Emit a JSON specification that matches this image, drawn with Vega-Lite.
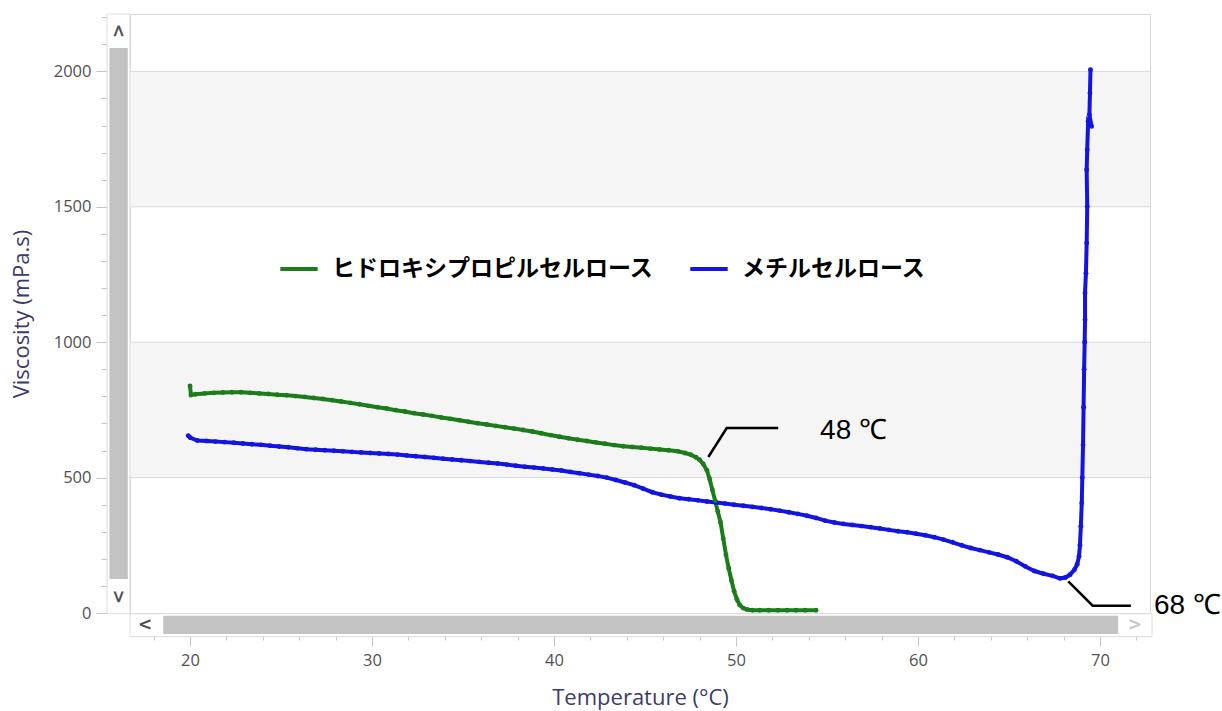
{
  "$schema": "https://vega.github.io/schema/vega-lite/v6.json",
  "width": 1020,
  "height": 599,
  "autosize": {"type": "none"},
  "padding": {"left": 130, "top": 14, "right": 72, "bottom": 98},
  "background": "white",
  "config": {"view": {"stroke": "#d9d9d9", "strokeWidth": 1}, "font": "Open Sans"},
  "datasets": {
    "one": [{}],
    "bands": [{"lo": 500, "hi": 1000}, {"lo": 1500, "hi": 2000}],
    "grid": [{"g": 500}, {"g": 1000}, {"g": 1500}, {"g": 2000}],
    "ann": [
      {"g": "a48", "t": 48.48, "v": 576, "n": 1},
      {"g": "a48", "t": 49.49, "v": 683, "n": 2},
      {"g": "a48", "t": 52.32, "v": 683, "n": 3},
      {"g": "a68", "t": 68.26, "v": 117, "n": 1},
      {"g": "a68", "t": 69.6, "v": 27, "n": 2},
      {"g": "a68", "t": 71.7, "v": 27, "n": 3}
    ],
    "labels": [
      {"txt": "48 ℃", "t": 54.62, "v": 671},
      {"txt": "68 ℃", "t": 72.97, "v": 25}
    ],
    "curves": [
      {"s": "ヒドロキシプロピルセルロース", "n": 1, "t": 20.0, "v": 838},
      {"s": "ヒドロキシプロピルセルロース", "n": 2, "t": 20.05, "v": 805},
      {"s": "ヒドロキシプロピルセルロース", "n": 3, "t": 20.3, "v": 808},
      {"s": "ヒドロキシプロピルセルロース", "n": 4, "t": 20.8, "v": 811},
      {"s": "ヒドロキシプロピルセルロース", "n": 5, "t": 21.3, "v": 813},
      {"s": "ヒドロキシプロピルセルロース", "n": 6, "t": 21.8, "v": 814},
      {"s": "ヒドロキシプロピルセルロース", "n": 7, "t": 22.3, "v": 815},
      {"s": "ヒドロキシプロピルセルロース", "n": 8, "t": 22.8, "v": 815},
      {"s": "ヒドロキシプロピルセルロース", "n": 9, "t": 23.3, "v": 813},
      {"s": "ヒドロキシプロピルセルロース", "n": 10, "t": 23.8, "v": 811},
      {"s": "ヒドロキシプロピルセルロース", "n": 11, "t": 24.3, "v": 809},
      {"s": "ヒドロキシプロピルセルロース", "n": 12, "t": 24.8, "v": 806},
      {"s": "ヒドロキシプロピルセルロース", "n": 13, "t": 25.3, "v": 804},
      {"s": "ヒドロキシプロピルセルロース", "n": 14, "t": 25.8, "v": 801},
      {"s": "ヒドロキシプロピルセルロース", "n": 15, "t": 26.3, "v": 798},
      {"s": "ヒドロキシプロピルセルロース", "n": 16, "t": 26.8, "v": 794},
      {"s": "ヒドロキシプロピルセルロース", "n": 17, "t": 27.3, "v": 790},
      {"s": "ヒドロキシプロピルセルロース", "n": 18, "t": 27.8, "v": 786},
      {"s": "ヒドロキシプロピルセルロース", "n": 19, "t": 28.3, "v": 781},
      {"s": "ヒドロキシプロピルセルロース", "n": 20, "t": 28.8, "v": 776},
      {"s": "ヒドロキシプロピルセルロース", "n": 21, "t": 29.3, "v": 771},
      {"s": "ヒドロキシプロピルセルロース", "n": 22, "t": 29.8, "v": 765},
      {"s": "ヒドロキシプロピルセルロース", "n": 23, "t": 30.3, "v": 760},
      {"s": "ヒドロキシプロピルセルロース", "n": 24, "t": 30.8, "v": 755},
      {"s": "ヒドロキシプロピルセルロース", "n": 25, "t": 31.3, "v": 749},
      {"s": "ヒドロキシプロピルセルロース", "n": 26, "t": 31.8, "v": 744},
      {"s": "ヒドロキシプロピルセルロース", "n": 27, "t": 32.3, "v": 738},
      {"s": "ヒドロキシプロピルセルロース", "n": 28, "t": 32.8, "v": 733},
      {"s": "ヒドロキシプロピルセルロース", "n": 29, "t": 33.3, "v": 728},
      {"s": "ヒドロキシプロピルセルロース", "n": 30, "t": 33.8, "v": 722},
      {"s": "ヒドロキシプロピルセルロース", "n": 31, "t": 34.3, "v": 717},
      {"s": "ヒドロキシプロピルセルロース", "n": 32, "t": 34.8, "v": 712},
      {"s": "ヒドロキシプロピルセルロース", "n": 33, "t": 35.3, "v": 706},
      {"s": "ヒドロキシプロピルセルロース", "n": 34, "t": 35.8, "v": 701},
      {"s": "ヒドロキシプロピルセルロース", "n": 35, "t": 36.3, "v": 696},
      {"s": "ヒドロキシプロピルセルロース", "n": 36, "t": 36.8, "v": 691},
      {"s": "ヒドロキシプロピルセルロース", "n": 37, "t": 37.3, "v": 686},
      {"s": "ヒドロキシプロピルセルロース", "n": 38, "t": 37.8, "v": 681},
      {"s": "ヒドロキシプロピルセルロース", "n": 39, "t": 38.3, "v": 676},
      {"s": "ヒドロキシプロピルセルロース", "n": 40, "t": 38.8, "v": 670},
      {"s": "ヒドロキシプロピルセルロース", "n": 41, "t": 39.3, "v": 664},
      {"s": "ヒドロキシプロピルセルロース", "n": 42, "t": 39.8, "v": 657},
      {"s": "ヒドロキシプロピルセルロース", "n": 43, "t": 40.3, "v": 651},
      {"s": "ヒドロキシプロピルセルロース", "n": 44, "t": 40.8, "v": 645},
      {"s": "ヒドロキシプロピルセルロース", "n": 45, "t": 41.3, "v": 640},
      {"s": "ヒドロキシプロピルセルロース", "n": 46, "t": 41.8, "v": 635},
      {"s": "ヒドロキシプロピルセルロース", "n": 47, "t": 42.3, "v": 630},
      {"s": "ヒドロキシプロピルセルロース", "n": 48, "t": 42.8, "v": 625},
      {"s": "ヒドロキシプロピルセルロース", "n": 49, "t": 43.3, "v": 620},
      {"s": "ヒドロキシプロピルセルロース", "n": 50, "t": 43.8, "v": 616},
      {"s": "ヒドロキシプロピルセルロース", "n": 51, "t": 44.3, "v": 613},
      {"s": "ヒドロキシプロピルセルロース", "n": 52, "t": 44.8, "v": 610},
      {"s": "ヒドロキシプロピルセルロース", "n": 53, "t": 45.3, "v": 607},
      {"s": "ヒドロキシプロピルセルロース", "n": 54, "t": 45.8, "v": 604},
      {"s": "ヒドロキシプロピルセルロース", "n": 55, "t": 46.3, "v": 601},
      {"s": "ヒドロキシプロピルセルロース", "n": 56, "t": 46.8, "v": 597},
      {"s": "ヒドロキシプロピルセルロース", "n": 57, "t": 47.2, "v": 591},
      {"s": "ヒドロキシプロピルセルロース", "n": 58, "t": 47.5, "v": 585},
      {"s": "ヒドロキシプロピルセルロース", "n": 59, "t": 47.8, "v": 575},
      {"s": "ヒドロキシプロピルセルロース", "n": 60, "t": 48.0, "v": 566},
      {"s": "ヒドロキシプロピルセルロース", "n": 61, "t": 48.2, "v": 550},
      {"s": "ヒドロキシプロピルセルロース", "n": 62, "t": 48.4, "v": 527},
      {"s": "ヒドロキシプロピルセルロース", "n": 63, "t": 48.55, "v": 495},
      {"s": "ヒドロキシプロピルセルロース", "n": 64, "t": 48.7, "v": 455},
      {"s": "ヒドロキシプロピルセルロース", "n": 65, "t": 48.85, "v": 415},
      {"s": "ヒドロキシプロピルセルロース", "n": 66, "t": 49.0, "v": 375},
      {"s": "ヒドロキシプロピルセルロース", "n": 67, "t": 49.15, "v": 335},
      {"s": "ヒドロキシプロピルセルロース", "n": 68, "t": 49.3, "v": 275},
      {"s": "ヒドロキシプロピルセルロース", "n": 69, "t": 49.45, "v": 215},
      {"s": "ヒドロキシプロピルセルロース", "n": 70, "t": 49.6, "v": 165},
      {"s": "ヒドロキシプロピルセルロース", "n": 71, "t": 49.75, "v": 120},
      {"s": "ヒドロキシプロピルセルロース", "n": 72, "t": 49.9, "v": 80},
      {"s": "ヒドロキシプロピルセルロース", "n": 73, "t": 50.05, "v": 50},
      {"s": "ヒドロキシプロピルセルロース", "n": 74, "t": 50.2, "v": 30},
      {"s": "ヒドロキシプロピルセルロース", "n": 75, "t": 50.4, "v": 18},
      {"s": "ヒドロキシプロピルセルロース", "n": 76, "t": 50.6, "v": 13},
      {"s": "ヒドロキシプロピルセルロース", "n": 77, "t": 50.9, "v": 10},
      {"s": "ヒドロキシプロピルセルロース", "n": 78, "t": 51.3, "v": 10},
      {"s": "ヒドロキシプロピルセルロース", "n": 79, "t": 51.8, "v": 10},
      {"s": "ヒドロキシプロピルセルロース", "n": 80, "t": 52.3, "v": 10},
      {"s": "ヒドロキシプロピルセルロース", "n": 81, "t": 52.8, "v": 10},
      {"s": "ヒドロキシプロピルセルロース", "n": 82, "t": 53.3, "v": 10},
      {"s": "ヒドロキシプロピルセルロース", "n": 83, "t": 53.8, "v": 10},
      {"s": "ヒドロキシプロピルセルロース", "n": 84, "t": 54.4, "v": 10},
      {"s": "メチルセルロース", "n": 1, "t": 19.9, "v": 655},
      {"s": "メチルセルロース", "n": 2, "t": 20.0, "v": 648},
      {"s": "メチルセルロース", "n": 3, "t": 20.4, "v": 637},
      {"s": "メチルセルロース", "n": 4, "t": 20.9, "v": 635},
      {"s": "メチルセルロース", "n": 5, "t": 21.4, "v": 633},
      {"s": "メチルセルロース", "n": 6, "t": 21.9, "v": 631},
      {"s": "メチルセルロース", "n": 7, "t": 22.4, "v": 629},
      {"s": "メチルセルロース", "n": 8, "t": 22.9, "v": 626},
      {"s": "メチルセルロース", "n": 9, "t": 23.4, "v": 623},
      {"s": "メチルセルロース", "n": 10, "t": 23.9, "v": 621},
      {"s": "メチルセルロース", "n": 11, "t": 24.4, "v": 618},
      {"s": "メチルセルロース", "n": 12, "t": 24.9, "v": 615},
      {"s": "メチルセルロース", "n": 13, "t": 25.4, "v": 612},
      {"s": "メチルセルロース", "n": 14, "t": 25.9, "v": 608},
      {"s": "メチルセルロース", "n": 15, "t": 26.4, "v": 605},
      {"s": "メチルセルロース", "n": 16, "t": 26.9, "v": 603},
      {"s": "メチルセルロース", "n": 17, "t": 27.4, "v": 601},
      {"s": "メチルセルロース", "n": 18, "t": 27.9, "v": 599},
      {"s": "メチルセルロース", "n": 19, "t": 28.4, "v": 597},
      {"s": "メチルセルロース", "n": 20, "t": 28.9, "v": 595},
      {"s": "メチルセルロース", "n": 21, "t": 29.4, "v": 593},
      {"s": "メチルセルロース", "n": 22, "t": 29.9, "v": 591},
      {"s": "メチルセルロース", "n": 23, "t": 30.4, "v": 589},
      {"s": "メチルセルロース", "n": 24, "t": 30.9, "v": 587},
      {"s": "メチルセルロース", "n": 25, "t": 31.4, "v": 585},
      {"s": "メチルセルロース", "n": 26, "t": 31.9, "v": 582},
      {"s": "メチルセルロース", "n": 27, "t": 32.4, "v": 579},
      {"s": "メチルセルロース", "n": 28, "t": 32.9, "v": 576},
      {"s": "メチルセルロース", "n": 29, "t": 33.4, "v": 573},
      {"s": "メチルセルロース", "n": 30, "t": 33.9, "v": 570},
      {"s": "メチルセルロース", "n": 31, "t": 34.4, "v": 567},
      {"s": "メチルセルロース", "n": 32, "t": 34.9, "v": 564},
      {"s": "メチルセルロース", "n": 33, "t": 35.4, "v": 561},
      {"s": "メチルセルロース", "n": 34, "t": 35.9, "v": 558},
      {"s": "メチルセルロース", "n": 35, "t": 36.4, "v": 555},
      {"s": "メチルセルロース", "n": 36, "t": 36.9, "v": 552},
      {"s": "メチルセルロース", "n": 37, "t": 37.4, "v": 548},
      {"s": "メチルセルロース", "n": 38, "t": 37.9, "v": 544},
      {"s": "メチルセルロース", "n": 39, "t": 38.4, "v": 540},
      {"s": "メチルセルロース", "n": 40, "t": 38.9, "v": 537},
      {"s": "メチルセルロース", "n": 41, "t": 39.4, "v": 534},
      {"s": "メチルセルロース", "n": 42, "t": 39.9, "v": 530},
      {"s": "メチルセルロース", "n": 43, "t": 40.4, "v": 526},
      {"s": "メチルセルロース", "n": 44, "t": 40.9, "v": 521},
      {"s": "メチルセルロース", "n": 45, "t": 41.4, "v": 516},
      {"s": "メチルセルロース", "n": 46, "t": 41.9, "v": 511},
      {"s": "メチルセルロース", "n": 47, "t": 42.4, "v": 506},
      {"s": "メチルセルロース", "n": 48, "t": 42.9, "v": 500},
      {"s": "メチルセルロース", "n": 49, "t": 43.4, "v": 491},
      {"s": "メチルセルロース", "n": 50, "t": 43.9, "v": 482},
      {"s": "メチルセルロース", "n": 51, "t": 44.4, "v": 472},
      {"s": "メチルセルロース", "n": 52, "t": 44.9, "v": 459},
      {"s": "メチルセルロース", "n": 53, "t": 45.4, "v": 446},
      {"s": "メチルセルロース", "n": 54, "t": 45.9, "v": 437},
      {"s": "メチルセルロース", "n": 55, "t": 46.4, "v": 430},
      {"s": "メチルセルロース", "n": 56, "t": 46.9, "v": 424},
      {"s": "メチルセルロース", "n": 57, "t": 47.4, "v": 420},
      {"s": "メチルセルロース", "n": 58, "t": 47.9, "v": 416},
      {"s": "メチルセルロース", "n": 59, "t": 48.4, "v": 412},
      {"s": "メチルセルロース", "n": 60, "t": 48.9, "v": 408},
      {"s": "メチルセルロース", "n": 61, "t": 49.4, "v": 404},
      {"s": "メチルセルロース", "n": 62, "t": 49.9, "v": 400},
      {"s": "メチルセルロース", "n": 63, "t": 50.4, "v": 396},
      {"s": "メチルセルロース", "n": 64, "t": 50.9, "v": 392},
      {"s": "メチルセルロース", "n": 65, "t": 51.4, "v": 388},
      {"s": "メチルセルロース", "n": 66, "t": 51.9, "v": 383},
      {"s": "メチルセルロース", "n": 67, "t": 52.4, "v": 378},
      {"s": "メチルセルロース", "n": 68, "t": 52.9, "v": 372},
      {"s": "メチルセルロース", "n": 69, "t": 53.4, "v": 366},
      {"s": "メチルセルロース", "n": 70, "t": 53.9, "v": 359},
      {"s": "メチルセルロース", "n": 71, "t": 54.4, "v": 351},
      {"s": "メチルセルロース", "n": 72, "t": 54.9, "v": 341},
      {"s": "メチルセルロース", "n": 73, "t": 55.4, "v": 334},
      {"s": "メチルセルロース", "n": 74, "t": 55.9, "v": 329},
      {"s": "メチルセルロース", "n": 75, "t": 56.4, "v": 325},
      {"s": "メチルセルロース", "n": 76, "t": 56.9, "v": 321},
      {"s": "メチルセルロース", "n": 77, "t": 57.4, "v": 317},
      {"s": "メチルセルロース", "n": 78, "t": 57.9, "v": 312},
      {"s": "メチルセルロース", "n": 79, "t": 58.4, "v": 307},
      {"s": "メチルセルロース", "n": 80, "t": 58.9, "v": 302},
      {"s": "メチルセルロース", "n": 81, "t": 59.4, "v": 298},
      {"s": "メチルセルロース", "n": 82, "t": 59.9, "v": 293},
      {"s": "メチルセルロース", "n": 83, "t": 60.4, "v": 287},
      {"s": "メチルセルロース", "n": 84, "t": 60.9, "v": 280},
      {"s": "メチルセルロース", "n": 85, "t": 61.4, "v": 271},
      {"s": "メチルセルロース", "n": 86, "t": 61.9, "v": 261},
      {"s": "メチルセルロース", "n": 87, "t": 62.4, "v": 250},
      {"s": "メチルセルロース", "n": 88, "t": 62.9, "v": 240},
      {"s": "メチルセルロース", "n": 89, "t": 63.4, "v": 232},
      {"s": "メチルセルロース", "n": 90, "t": 63.9, "v": 224},
      {"s": "メチルセルロース", "n": 91, "t": 64.4, "v": 216},
      {"s": "メチルセルロース", "n": 92, "t": 64.9, "v": 206},
      {"s": "メチルセルロース", "n": 93, "t": 65.4, "v": 191},
      {"s": "メチルセルロース", "n": 94, "t": 65.9, "v": 172},
      {"s": "メチルセルロース", "n": 95, "t": 66.4, "v": 155},
      {"s": "メチルセルロース", "n": 96, "t": 66.9, "v": 145},
      {"s": "メチルセルロース", "n": 97, "t": 67.4, "v": 137},
      {"s": "メチルセルロース", "n": 98, "t": 67.8, "v": 128},
      {"s": "メチルセルロース", "n": 99, "t": 68.1, "v": 131},
      {"s": "メチルセルロース", "n": 100, "t": 68.35, "v": 141},
      {"s": "メチルセルロース", "n": 101, "t": 68.6, "v": 160},
      {"s": "メチルセルロース", "n": 102, "t": 68.75, "v": 180},
      {"s": "メチルセルロース", "n": 103, "t": 68.85, "v": 210},
      {"s": "メチルセルロース", "n": 104, "t": 68.9, "v": 250},
      {"s": "メチルセルロース", "n": 105, "t": 68.95, "v": 320},
      {"s": "メチルセルロース", "n": 106, "t": 69.0, "v": 406},
      {"s": "メチルセルロース", "n": 107, "t": 69.03, "v": 500},
      {"s": "メチルセルロース", "n": 108, "t": 69.07, "v": 620},
      {"s": "メチルセルロース", "n": 109, "t": 69.1, "v": 760},
      {"s": "メチルセルロース", "n": 110, "t": 69.13, "v": 900},
      {"s": "メチルセルロース", "n": 111, "t": 69.16, "v": 1000},
      {"s": "メチルセルロース", "n": 112, "t": 69.18, "v": 1083},
      {"s": "メチルセルロース", "n": 113, "t": 69.18, "v": 1182},
      {"s": "メチルセルロース", "n": 114, "t": 69.23, "v": 1255},
      {"s": "メチルセルロース", "n": 115, "t": 69.27, "v": 1366},
      {"s": "メチルセルロース", "n": 116, "t": 69.3, "v": 1501},
      {"s": "メチルセルロース", "n": 117, "t": 69.27, "v": 1637},
      {"s": "メチルセルロース", "n": 118, "t": 69.3, "v": 1711},
      {"s": "メチルセルロース", "n": 119, "t": 69.35, "v": 1815},
      {"s": "メチルセルロース", "n": 120, "t": 69.54, "v": 1797},
      {"s": "メチルセルロース", "n": 121, "t": 69.42, "v": 1840},
      {"s": "メチルセルロース", "n": 122, "t": 69.45, "v": 1920},
      {"s": "メチルセルロース", "n": 123, "t": 69.48, "v": 2006}
    ]
  },
  "layer": [
    {
      "data": {"name": "bands"},
      "mark": {"type": "rect", "fill": "#f5f5f5"},
      "encoding": {
        "y": {"field": "lo", "type": "quantitative", "axis": null},
        "y2": {"field": "hi"}
      }
    },
    {
      "data": {"name": "grid"},
      "mark": {"type": "rule", "stroke": "#d9d9d9", "strokeWidth": 1},
      "encoding": {
        "y": {"field": "g", "type": "quantitative", "axis": null}
      }
    },
    {
      "data": {"name": "one"},
      "mark": {"type": "rect", "fill": "white", "stroke": "#dcdcdc", "strokeWidth": 1, "clip": false},
      "encoding": {
        "x": {"datum": 15.44, "type": "quantitative", "axis": null},
        "x2": {"datum": 16.7},
        "y": {"datum": 2212, "type": "quantitative", "axis": null},
        "y2": {"datum": -2.6}
      }
    },
    {
      "data": {"name": "one"},
      "mark": {"type": "rect", "fill": "white", "stroke": "#dcdcdc", "strokeWidth": 1, "clip": false},
      "encoding": {
        "x": {"datum": 16.7, "type": "quantitative", "axis": null},
        "x2": {"datum": 72.86},
        "y": {"datum": -2.6, "type": "quantitative", "axis": null},
        "y2": {"datum": -87.5}
      }
    },
    {
      "data": {"name": "one"},
      "mark": {"type": "rect", "fill": "#c3c3c3", "clip": false},
      "encoding": {
        "x": {"datum": 15.57, "type": "quantitative", "axis": null},
        "x2": {"datum": 16.58},
        "y": {"datum": 2086, "type": "quantitative", "axis": null},
        "y2": {"datum": 126}
      }
    },
    {
      "data": {"name": "one"},
      "mark": {"type": "rect", "fill": "#c3c3c3", "clip": false},
      "encoding": {
        "x": {"datum": 18.53, "type": "quantitative", "axis": null},
        "x2": {"datum": 71.0},
        "y": {"datum": -10, "type": "quantitative", "axis": null},
        "y2": {"datum": -77.5}
      }
    },
    {
      "data": {"name": "one"},
      "mark": {"type": "text", "text": "<", "angle": 90, "font": "DejaVu Sans", "fontSize": 17, "fontWeight": "bold", "color": "#505050", "align": "center", "baseline": "middle", "clip": false},
      "encoding": {
        "x": {"datum": 16.04, "type": "quantitative", "axis": null},
        "y": {"datum": 2150, "type": "quantitative", "axis": null}
      }
    },
    {
      "data": {"name": "one"},
      "mark": {"type": "text", "text": ">", "angle": 90, "font": "DejaVu Sans", "fontSize": 17, "fontWeight": "bold", "color": "#505050", "align": "center", "baseline": "middle", "clip": false},
      "encoding": {
        "x": {"datum": 16.04, "type": "quantitative", "axis": null},
        "y": {"datum": 60, "type": "quantitative", "axis": null}
      }
    },
    {
      "data": {"name": "one"},
      "mark": {"type": "text", "text": "<", "font": "DejaVu Sans", "fontSize": 17, "fontWeight": "bold", "color": "#505050", "align": "center", "baseline": "middle", "clip": false},
      "encoding": {
        "x": {"datum": 17.53, "type": "quantitative", "axis": null},
        "y": {"datum": -43, "type": "quantitative", "axis": null}
      }
    },
    {
      "data": {"name": "one"},
      "mark": {"type": "text", "text": ">", "font": "DejaVu Sans", "fontSize": 17, "fontWeight": "bold", "color": "#c8c8c8", "align": "center", "baseline": "middle", "clip": false},
      "encoding": {
        "x": {"datum": 71.92, "type": "quantitative", "axis": null},
        "y": {"datum": -43, "type": "quantitative", "axis": null}
      }
    },
    {
      "data": {"name": "curves"},
      "mark": {"type": "point", "opacity": 0},
      "encoding": {
        "x": {"field": "t", "type": "quantitative",
          "axis": {"orient": "bottom", "offset": 23, "values": [18,20,22,24,26,28,30,32,34,36,38,40,42,44,46,48,50,52,54,56,58,60,62,64,66,68,70,72], "labels": false, "tickSize": 4, "tickColor": "#c4c4c4", "domain": false, "grid": false, "title": null}},
        "y": {"field": "v", "type": "quantitative",
          "axis": {"orient": "left", "offset": 23, "values": [0,100,200,300,400,500,600,700,800,900,1000,1100,1200,1300,1400,1500,1600,1700,1800,1900,2000,2100,2200], "labels": false, "tickSize": 6, "tickColor": "#c4c4c4", "domain": false, "grid": false, "title": null}}
      }
    },
    {
      "data": {"name": "curves"},
      "mark": {"type": "line", "strokeWidth": 4, "point": {"filled": true, "size": 24}},
      "encoding": {
        "x": {"field": "t", "type": "quantitative",
          "scale": {"domain": [16.7, 72.75], "nice": false, "zero": false},
          "axis": {"orient": "bottom", "offset": 23, "values": [20,30,40,50,60,70], "format": "d", "tickSize": 10, "tickColor": "#c4c4c4", "domainColor": "#d0d0d0", "grid": false,
            "labelFont": "Open Sans", "labelFontSize": 16.5, "labelColor": "#505050", "labelPadding": 6,
            "title": "Temperature (°C)", "titleFont": "Open Sans", "titleFontSize": 22, "titleFontWeight": "normal", "titleColor": "#3b3b6b", "titlePadding": 19}},
        "y": {"field": "v", "type": "quantitative",
          "scale": {"domain": [0, 2212], "nice": false, "zero": false},
          "axis": {"orient": "left", "offset": 23, "values": [0,500,1000,1500,2000], "format": "d", "tickSize": 11, "tickColor": "#c4c4c4", "domainColor": "#d0d0d0", "grid": false,
            "labelFont": "Open Sans", "labelFontSize": 16.5, "labelColor": "#505050", "labelPadding": 5,
            "title": "Viscosity (mPa.s)", "titleFont": "Open Sans", "titleFontSize": 22, "titleFontWeight": "normal", "titleColor": "#3b3b6b", "titlePadding": 20}},
        "order": {"field": "n", "type": "quantitative"},
        "color": {"field": "s", "type": "nominal",
          "scale": {"domain": ["ヒドロキシプロピルセルロース", "メチルセルロース"], "range": ["#1c7c1c", "#1414e0"]},
          "legend": {"orient": "none", "legendX": 148, "legendY": 234, "direction": "horizontal", "title": null,
            "symbolType": "stroke", "symbolSize": 1400, "symbolStrokeWidth": 4, "symbolOpacity": 1,
            "labelFont": "Noto Sans CJK JP", "labelFontSize": 23, "labelFontWeight": "bold", "labelColor": "#000000", "labelLimit": 0,
            "labelOffset": 12, "columnPadding": 28, "padding": 0}}
      }
    },
    {
      "data": {"name": "ann"},
      "mark": {"type": "line", "color": "#000000", "strokeWidth": 2.5, "clip": false},
      "encoding": {
        "x": {"field": "t", "type": "quantitative", "axis": null},
        "y": {"field": "v", "type": "quantitative", "axis": null},
        "detail": {"field": "g"},
        "order": {"field": "n", "type": "quantitative"}
      }
    },
    {
      "data": {"name": "labels"},
      "mark": {"type": "text", "font": "Liberation Sans", "fontSize": 28, "color": "#000000", "align": "left", "baseline": "middle", "clip": false},
      "encoding": {
        "x": {"field": "t", "type": "quantitative", "axis": null},
        "y": {"field": "v", "type": "quantitative", "axis": null},
        "text": {"field": "txt"}
      }
    }
  ],
  "resolve": {"axis": {"x": "independent", "y": "independent"}}
}
